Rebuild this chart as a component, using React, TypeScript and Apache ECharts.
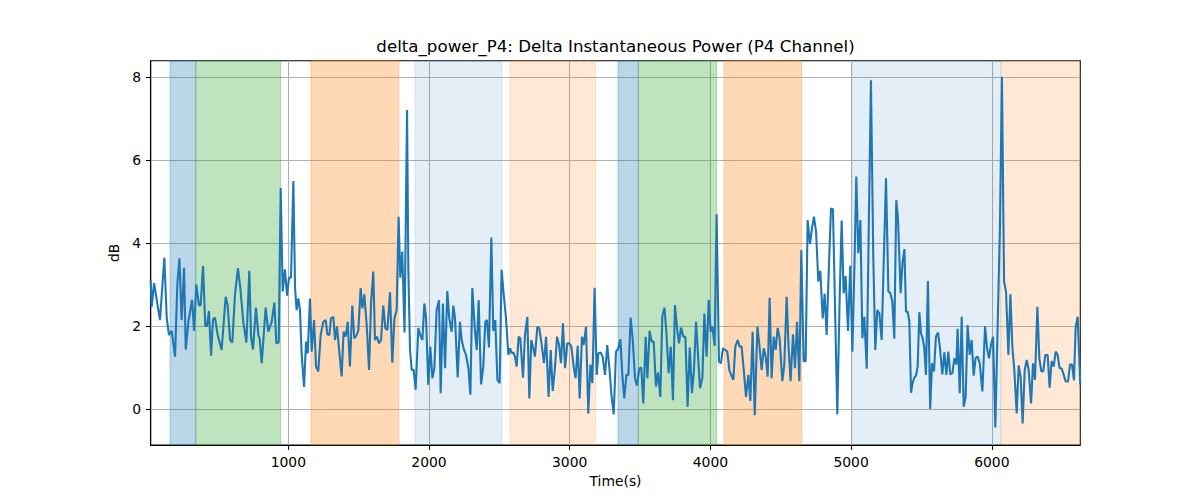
import React, { useEffect, useRef } from "react";
import * as echarts from "echarts";

const times = [
  22, 29, 46, 88, 119, 136, 152, 171, 195, 211, 226, 242, 259, 271, 290, 316, 330, 346, 365, 377,
  394, 410, 422, 436, 451, 465, 479, 498, 526, 555, 569, 586, 602, 621, 642, 659, 680, 702, 723, 735,
  749, 770, 787, 796, 811, 839, 858, 882, 901, 915, 932, 946, 960, 976, 991, 1005, 1019, 1036,
  1048, 1059, 1071, 1083, 1095, 1112, 1126, 1138, 1154, 1166, 1183, 1197, 1213, 1230, 1249, 1266, 1277, 1292,
  1303, 1320, 1332, 1346, 1360, 1379, 1393, 1408, 1422, 1438, 1455, 1469, 1486, 1498, 1514, 1526, 1540, 1557,
  1574, 1588, 1604, 1616, 1630, 1645, 1659, 1675, 1690, 1704, 1723, 1739, 1754, 1770, 1784, 1796, 1810, 1826,
  1844, 1853, 1865, 1877, 1891, 1905, 1924, 1938, 1953, 1967, 1979, 1995, 2009, 2024, 2038, 2054, 2071, 2083,
  2099, 2114,
  2130, 2144, 2161, 2173, 2185, 2204, 2220, 2232, 2249, 2263, 2280, 2294, 2308, 2325, 2339, 2353, 2370, 2386,
  2400, 2412, 2426, 2443, 2457, 2471, 2486, 2502, 2516, 2531, 2547, 2564, 2576, 2588, 2599, 2611, 2623, 2637,
  2649, 2668, 2682, 2699, 2713, 2727, 2741, 2753, 2770, 2784, 2801, 2817, 2832, 2850, 2865, 2879, 2895, 2910,
  2924, 2938, 2952, 2967, 2983, 2997, 3012, 3028, 3042, 3057, 3071, 3087, 3099, 3116, 3132, 3147, 3161, 3177,
  3192, 3204, 3220, 3234, 3251, 3267, 3282, 3298, 3313, 3329, 3346, 3360, 3374, 3388, 3403, 3417, 3433, 3448,
  3464, 3478, 3495, 3509, 3523, 3540, 3552, 3568, 3583, 3597, 3613, 3628, 3644, 3658, 3673, 3687, 3703, 3718,
  3734, 3748, 3763, 3777, 3791, 3808, 3822, 3838, 3853, 3869, 3883, 3898, 3912, 3926, 3943, 3957, 3973, 3988,
  4002, 4014, 4030, 4044, 4061, 4075, 4089, 4106, 4120, 4135, 4149, 4163, 4177, 4194, 4208, 4222, 4239, 4253,
  4270, 4284, 4300, 4315,
  4334, 4348, 4364, 4379, 4393, 4407, 4421, 4435, 4450, 4464, 4478, 4492, 4511, 4525, 4542, 4556, 4570, 4587,
  4601, 4616, 4632, 4646, 4663, 4677, 4691, 4708, 4722, 4736, 4751, 4767, 4781, 4798, 4812, 4826, 4843, 4857,
  4871, 4886, 4902, 4919, 4933, 4947, 4961, 4978, 4994, 5009, 5023, 5037, 5051, 5066, 5080, 5094, 5111, 5141,
  5158, 5172, 5186, 5201, 5217, 5231, 5248, 5265, 5279, 5293, 5307, 5321, 5333, 5352, 5366, 5379, 5390, 5402,
  5414, 5426, 5437, 5449, 5461, 5473, 5485, 5497, 5509, 5520, 5532, 5546, 5562, 5575, 5589, 5603, 5618, 5632,
  5648, 5663, 5677, 5691, 5705, 5720, 5734, 5748, 5757, 5772, 5786, 5800, 5814, 5828, 5843, 5857, 5871, 5885,
  5900, 5914, 5933, 5952, 5966, 5980, 5994, 6009, 6025, 6058, 6072, 6087, 6101, 6118, 6132, 6146, 6160, 6177,
  6191, 6205, 6219, 6234, 6248, 6262, 6279, 6293, 6307, 6324, 6338, 6352, 6366, 6380, 6397, 6411, 6425, 6440,
  6454, 6468, 6482, 6496, 6511, 6525, 6542, 6556, 6570, 6584, 6596, 6610, 6629,
];

const values = [
  3.1, 2.47, 3.04, 2.15, 3.65, 2.19, 1.79, 1.89, 1.27, 2.99, 3.64, 2.15, 3.41, 1.44, 2.11, 2.64, 1.89, 3.01, 2.51, 2.51,
  3.45, 2.01, 2.01, 2.37, 1.29, 2.17, 2.21, 1.79, 1.43, 2.71, 2.51, 1.67, 1.61, 2.76, 3.40, 2.92, 2.11, 1.61, 3.34, 1.75,
  1.44, 2.45, 1.79, 1.71, 1.11, 2.45, 1.87, 2.11, 2.57, 1.59, 1.61, 5.33, 2.84, 3.37, 2.74, 3.17, 3.17, 5.50,
  2.92, 2.39, 2.67, 2.39, 1.31, 0.54, 1.63, 1.35, 2.67, 1.39, 2.15, 1.03, 0.91, 1.79, 2.11, 2.15, 1.81, 1.79,
  2.19, 2.23, 1.67, 2.00, 1.47, 0.79, 1.87, 1.75, 2.11, 1.03, 2.50, 1.71, 1.79, 1.91, 2.92, 2.43, 2.77, 2.03,
  0.95, 2.55, 3.32, 1.67, 1.75, 1.59, 1.67, 2.50, 1.95, 1.91, 2.82, 1.12, 2.19, 2.39, 4.64, 3.17, 3.80, 1.85,
  7.21, 3.40, 1.43, 0.95, 0.95, 0.47, 1.96, 1.79, 1.67, 2.55, 2.19, 0.59, 1.51, 0.75, 0.99, 2.39, 2.63, 0.39,
  2.55, 0.99,
  2.85, 2.19, 1.87, 2.50, 2.19, 0.77, 2.11, 1.67, 1.43, 1.31, 0.99, 0.35, 2.92, 1.95, 1.43, 2.63, 0.60, 1.03,
  2.11, 2.15, 1.49, 4.14, 1.89, 2.15, 0.71, 0.63, 3.36, 2.76, 2.21, 1.31, 1.47, 1.35, 1.37, 1.27, 1.03, 1.75,
  1.71, 0.76, 1.79, 2.23, 0.26, 1.67, 1.47, 1.27, 1.99, 1.95, 1.55, 1.11, 1.75, 0.30, 1.43, 0.44, 0.99, 1.75,
  1.55, 1.11, 2.07, 0.99, 1.59, 1.59, 1.51, 1.03, 0.75, 1.53, 0.26, 1.75, 1.55, 1.99, -0.10, 1.08, 0.63, 2.93,
  0.83, 1.35, 1.37, 1.27, 0.83, 1.55, 0.99, 0.30, -0.12, 1.39, 1.47, 1.69, 0.83, 0.26, 0.83, 0.83, 2.21, 1.67,
  0.75, 0.57, 0.99, 1.00, 0.14, 1.75, 0.75, 1.89, 1.63, 1.63, 0.55, 0.89, 0.30, 2.23, 2.45, 1.87, 0.87, 1.51,
  0.22, 2.51, 1.95, 1.59, 1.97, 1.75, 1.75, 0.06, 1.49, 0.39, 0.94, 2.11, 1.31, 0.51, 0.76, 2.31, 1.27, 2.63,
  1.87, 1.99, 1.53, 4.70, 1.15, 1.11, 1.47, 1.43, 1.39, 0.94, 0.82, 0.71, 1.51, 1.67, 1.51, 1.51, 0.87, 0.30,
  0.83, 0.20, 1.87, -0.14,
  1.99, 1.55, 0.95, 1.47, 1.27, 0.79, 2.69, 0.75, 1.75, 1.43, 1.96, 1.71, 0.68, 1.06, 2.71, 1.47, 0.68, 1.81,
  0.99, 2.11, 0.68, 3.84, 1.16, 1.16, 4.56, 3.98, 4.36, 4.64, 4.28, 3.08, 3.34, 2.19, 2.79, 1.79, 3.52, 4.84,
  4.82, 2.43, -0.12, 2.75, 4.55, 2.80, 3.21, 1.89, 3.46, 1.39, 3.36, 5.61, 3.76, 4.56, 1.71, 2.23, 0.98, 7.93,
  3.60, 1.43, 2.39, 2.31, 1.67, 3.44, 5.57, 2.84, 2.80, 2.59, 1.70, 5.04, 4.60, 2.80, 3.56, 3.86, 2.35, 2.35,
  2.11, 0.40, 0.63, 0.76, 0.81, 1.03, 2.34, 1.83, 1.71, 1.49, 0.83, 3.09, 0.01, 1.11, 0.91, 1.75, 1.85, 1.47,
  0.84, 1.37, 0.83, 1.39, 0.84, 0.87, 1.23, 1.08, 1.94, 0.39, 2.23, 0.06, 0.30, 2.03, 1.31, 1.67, 0.81, 1.24,
  1.27, 1.11, 0.43, 2.00, 1.47, 1.23, 1.55, 1.75, -0.44, 4.44, 8.01, 3.08, 2.84, 1.31, 2.77, 1.51, 0.95, -0.10,
  1.06, 0.78, -0.34, 0.95, 1.19, 0.95, 0.14, 1.11, 0.71, 2.47, 1.22, 0.91, 0.92, 1.31, 1.31, 0.52, 1.16, 1.03,
  1.39, 1.31, 0.99, 0.99, 0.83, 0.67, 0.67, 1.08, 1.08, 0.70, 1.97, 2.23, 0.60,
];

const xTicks = [1000, 2000, 3000, 4000, 5000, 6000];
const yTicks = [0, 2, 4, 6, 8];
const xRange = [22, 6629];
const yRange = [-0.86, 8.4];

const bandStarts = [159, 342, 1161, 1900, 2576, 3343, 3488, 4097, 5008, 6065];
const bandEnds = [342, 946, 1785, 2519, 3185, 3488, 4045, 4649, 6065, 6629];
const bandKinds = ["a", "b", "c", "d", "e", "a", "b", "c", "d", "e"];

const TITLE = "delta_power_P4: Delta Instantaneous Power (P4 Channel)";
const X_NAME = "Time(s)";
const Y_NAME = "dB";

const kindColor: Record<string, string> = {
  a: "rgba(31,119,180,0.3)",
  b: "rgba(44,160,44,0.3)",
  c: "rgba(255,127,14,0.3)",
  d: "rgba(31,119,180,0.12)",
  e: "rgba(255,127,14,0.17)",
};

const FONT = "DejaVu Sans";

export default function App() {
  const ref = useRef<HTMLDivElement>(null);
  useEffect(() => {
    if (!ref.current) return;
    const chart = echarts.init(ref.current, undefined, { renderer: "svg" });
    const seriesData = times.map((t, i) => [t, values[i]]);
    const areas = bandStarts.map((s, i) => [
      {
        xAxis: s,
        itemStyle: {
          color: kindColor[bandKinds[i]],
          borderColor: kindColor[bandKinds[i]],
          borderWidth: 1,
        },
      },
      { xAxis: bandEnds[i] },
    ]);
    const axisText = { color: "#000", fontSize: 13.9, fontFamily: FONT };
    const plain = (v: number) => String(v);
    chart.setOption({
      animation: false,
      backgroundColor: "#fff",
      textStyle: { fontFamily: FONT },
      graphic: [
        {
          type: "text",
          x: 615.5,
          y: 46,
          style: {
            text: TITLE,
            fill: "#000",
            font: `16.67px "${FONT}"`,
            textAlign: "center",
            textVerticalAlign: "middle",
          },
        },
      ],
      grid: {
        left: 150.7,
        right: 119.7,
        top: 60.7,
        bottom: 55,
        show: true,
        borderColor: "#000",
        borderWidth: 1.1,
        backgroundColor: "transparent",
      },
      xAxis: {
        type: "value",
        min: xRange[0],
        max: xRange[1],
        name: X_NAME,
        nameLocation: "middle",
        nameGap: 28,
        nameTextStyle: axisText,
        axisLine: { show: true, onZero: false, lineStyle: { color: "#000", width: 1.1 } },
        axisTick: {
          show: true,
          inside: false,
          length: 4.9,
          lineStyle: { color: "#000", width: 1.1 },
          customValues: xTicks,
        },
        axisLabel: { ...axisText, margin: 9.7, customValues: xTicks, formatter: plain },
        splitLine: { show: true, lineStyle: { color: "#b0b0b0", width: 1.1 } },
      },
      yAxis: {
        type: "value",
        min: yRange[0],
        max: yRange[1],
        name: Y_NAME,
        nameLocation: "middle",
        nameRotate: 90,
        nameGap: 26,
        nameTextStyle: axisText,
        axisLine: { show: true, onZero: false, lineStyle: { color: "#000", width: 1.1 } },
        axisTick: {
          show: true,
          inside: false,
          length: 4.9,
          lineStyle: { color: "#000", width: 1.1 },
          customValues: yTicks,
        },
        axisLabel: { ...axisText, margin: 9.7, customValues: yTicks, formatter: plain },
        splitLine: { show: true, lineStyle: { color: "#b0b0b0", width: 1.1 } },
      },
      series: [
        {
          type: "line",
          data: seriesData,
          showSymbol: false,
          symbol: "none",
          clip: true,
          lineStyle: { color: "#1f77b4", width: 2.1 },
          z: 3,
          markArea: {
            silent: true,
            data: areas,
          },
        },
      ],
    });
    return () => chart.dispose();
  }, []);
  return (
    <div
      ref={ref}
      style={{ position: "fixed", left: 0, top: 0, width: 1200, height: 500, background: "#fff" }}
    />
  );
}
